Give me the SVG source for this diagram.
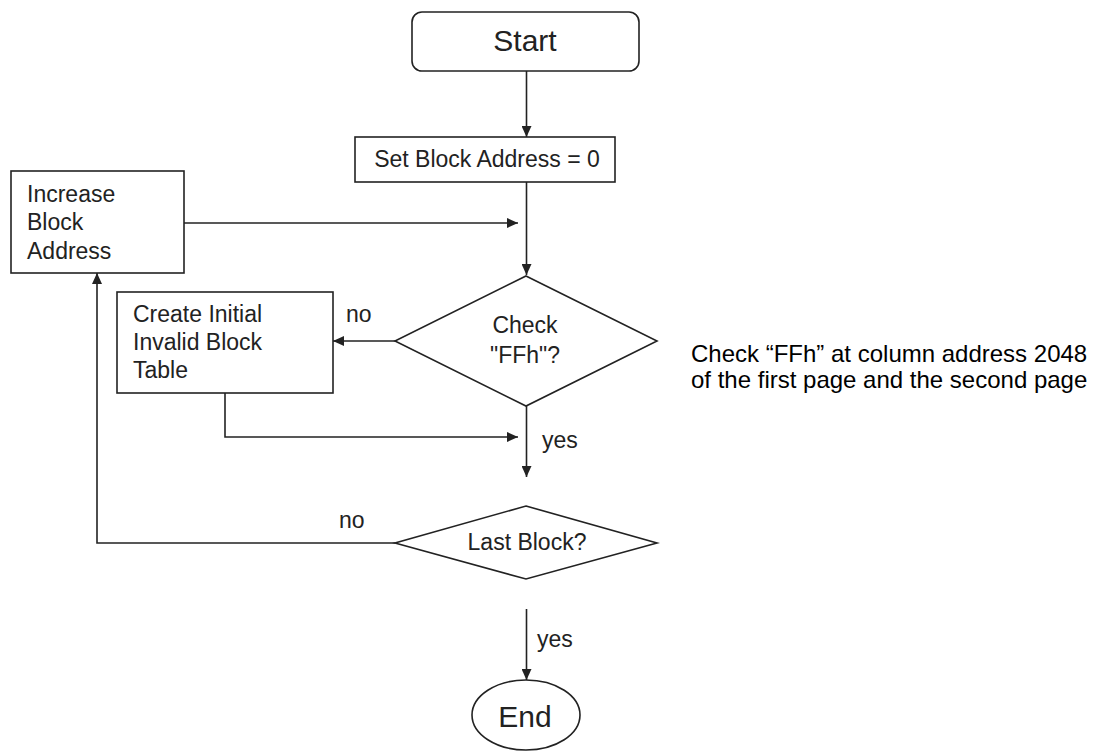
<svg xmlns="http://www.w3.org/2000/svg" width="1102" height="752" viewBox="0 0 1102 752">
<style>
.shape{fill:#fff;stroke:#222;stroke-width:1.6}
.conn{fill:none;stroke:#222;stroke-width:1.6}
text{font-family:"Liberation Sans",Arial,sans-serif;fill:#222}
.t{font-size:23px}
.big{font-size:30px;text-anchor:middle}
.mid{text-anchor:middle}
.note{font-size:24px;fill:#000}
</style>
<defs>
<marker id="arr" markerUnits="userSpaceOnUse" markerWidth="12" markerHeight="10" refX="11" refY="5" orient="auto">
<path d="M0,0 L11,5 L0,10 Z" fill="#222"/>
</marker>
</defs>
<rect width="1102" height="752" fill="#fff"/>
<g id="connectors">
<path class="conn" d="M526.5 71 V137" marker-end="url(#arr)"/>
<path class="conn" d="M526.5 182 V275" marker-end="url(#arr)"/>
<path class="conn" d="M184 223 H518" marker-end="url(#arr)"/>
<path class="conn" d="M395 341 H333" marker-end="url(#arr)"/>
<path class="conn" d="M225 393 V437 H518" marker-end="url(#arr)"/>
<path class="conn" d="M526.5 406 V477" marker-end="url(#arr)"/>
<path class="conn" d="M395 543 H97 V273" marker-end="url(#arr)"/>
<path class="conn" d="M526.5 609 V680" marker-end="url(#arr)"/>
<text class="t" x="346" y="322">no</text>
<text class="t" x="542" y="448">yes</text>
<text class="t" x="339" y="528">no</text>
<text class="t" x="537" y="647">yes</text>
</g>
<g id="start">
<rect class="shape" x="412" y="12" width="227" height="59" rx="10"/>
<text class="big" x="525" y="51">Start</text>
</g>
<g id="set">
<rect class="shape" x="355" y="137" width="260" height="45"/>
<text class="t mid" x="487" y="167">Set Block Address = 0</text>
</g>
<g id="increase">
<rect class="shape" x="11" y="171" width="173" height="102"/>
<text class="t" x="27" y="202">Increase</text>
<text class="t" x="27" y="230">Block</text>
<text class="t" x="27" y="259">Address</text>
</g>
<g id="create">
<rect class="shape" x="117" y="292" width="216" height="101"/>
<text class="t" x="133" y="322">Create Initial</text>
<text class="t" x="133" y="350">Invalid Block</text>
<text class="t" x="133" y="378">Table</text>
</g>
<g id="check">
<polygon class="shape" points="526,276 657,341 526,406 395,341"/>
<text class="t mid" x="525" y="333">Check</text>
<text class="t mid" x="525" y="363">"FFh"?</text>
</g>
<g id="last">
<polygon class="shape" points="526,506 657,543 526,579 395,543"/>
<text class="t mid" x="527" y="550">Last Block?</text>
</g>
<g id="end">
<ellipse class="shape" cx="526" cy="715" rx="54" ry="35"/>
<text class="big" x="525" y="727">End</text>
</g>
<g id="note">
<text class="note" x="691" y="362">Check “FFh” at column address 2048</text>
<text class="note" x="691" y="388">of the first page and the second page</text>
</g>
</svg>
